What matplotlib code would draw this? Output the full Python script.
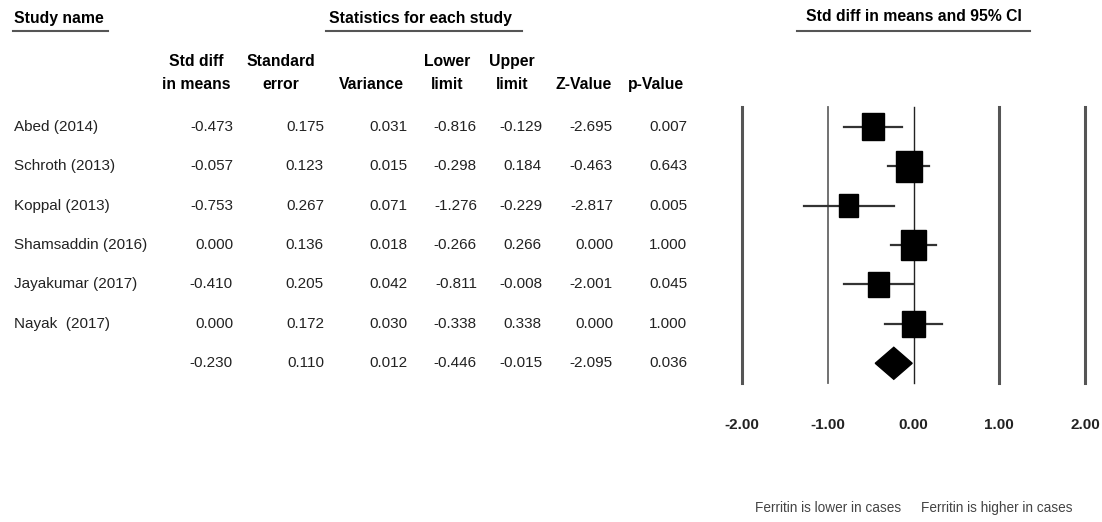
import numpy as np
import matplotlib
matplotlib.use("Agg")
import matplotlib.pyplot as plt
from matplotlib.patches import Rectangle, Polygon

plt.rcParams['font.family'] = ['Liberation Sans', 'DejaVu Sans']

# data
studies = ["Abed (2014)", "Schroth (2013)", "Koppal (2013)", "Shamsaddin (2016)",
           "Jayakumar (2017)", "Nayak  (2017)"]
smd = [-0.473, -0.057, -0.753, 0.000, -0.410, 0.000]
se = [0.175, 0.123, 0.267, 0.136, 0.205, 0.172]
var = [0.031, 0.015, 0.071, 0.018, 0.042, 0.030]
lower = [-0.816, -0.298, -1.276, -0.266, -0.811, -0.338]
upper = [-0.129, 0.184, -0.229, 0.266, -0.008, 0.338]
zval = [-2.695, -0.463, -2.817, 0.000, -2.001, 0.000]
pval = [0.007, 0.643, 0.005, 1.000, 0.045, 1.000]

pooled = [-0.230, 0.110, 0.012, -0.446, -0.015, -2.095, 0.036]

col_heads = [("Std diff", "in means"), ("Standard", "error"), ("", "Variance"),
             ("Lower", "limit"), ("Upper", "limit"), ("", "Z-Value"), ("", "p-Value")]
xticks = [-2.0, -1.0, 0.0, 1.0, 2.0]

W, H = 1102, 522
fig = plt.figure(figsize=(W / 100, H / 100), dpi=100)

# layout axes in pixel coordinates for the table part
lay = fig.add_axes([0, 0, 1, 1])
lay.set_xlim(0, W)
lay.set_ylim(H, 0)
lay.axis("off")

fs = 11
hfs = 11.3
row_y0, row_dy = 127, 39.33
col_right = [233, 324, 407, 477, 542, 613, 687]
col_center = [196, 281, 371, 447, 512, 584, 656]

# top headers
lay.text(14, 23, "Study name", fontsize=hfs, fontweight="bold", va="baseline", ha="left")
lay.plot([13, 108], [31, 31], color="#555555", lw=1.5)
lay.text(420, 23, "Statistics for each study", fontsize=hfs, fontweight="bold",
         va="baseline", ha="center")
lay.plot([326, 522], [31, 31], color="#555555", lw=1.5)
lay.text(914, 21, "Std diff in means and 95% CI", fontsize=hfs, fontweight="bold",
         va="baseline", ha="center")
lay.plot([797, 1030], [31, 31], color="#555555", lw=1.5)

for (h1, h2), cx in zip(col_heads, col_center):
    if h1:
        lay.text(cx, 66, h1, fontsize=hfs, fontweight="bold", ha="center", va="baseline")
    lay.text(cx, 89, h2, fontsize=hfs, fontweight="bold", ha="center", va="baseline")

cols = [smd, se, var, lower, upper, zval, pval]
for i, name in enumerate(studies):
    y = row_y0 + i * row_dy
    lay.text(14, y, name, fontsize=fs, ha="left", va="center", color="#222222")
    for c, xr in zip(cols, col_right):
        lay.text(xr, y, f"{c[i]:.3f}", fontsize=fs, ha="right", va="center", color="#222222")

y = row_y0 + len(studies) * row_dy
for v, xr in zip(pooled, col_right):
    lay.text(xr, y, f"{v:.3f}", fontsize=fs, ha="right", va="center", color="#222222")

# forest plot axes: x -2..2 -> px 742..1085, y rows -0.5..6.5 -> px 107..383
x0, x1 = 742, 1085
ytop, ybot = 107, 383
ax = fig.add_axes([x0 / W, 1 - ybot / H, (x1 - x0) / W, (ybot - ytop) / H])
ax.set_xlim(-2, 2)
ax.set_ylim(6.5, -0.5)
ax.axis("off")

px_x = (x1 - x0) / 4.0
px_y = (ybot - ytop) / 7.0

for xv in xticks:
    if xv == 0:
        ax.axvline(xv, color="#222222", lw=1.0, clip_on=False)
    elif xv == -1:
        ax.axvline(xv, color="#666666", lw=1.3, clip_on=False)
    else:
        ax.axvline(xv, color="#555555", lw=2.2, clip_on=False)

weights = 1.0 / np.array(var)
for i in range(len(studies)):
    ax.plot([lower[i], upper[i]], [i, i], color="#333333", lw=1.6)
    wpx = 13 + 1.6 * np.sqrt(weights[i])
    hpx = 1.2 * wpx
    w = wpx / px_x
    h = hpx / px_y
    ax.add_patch(Rectangle((smd[i] - w / 2, i - h / 2), w, h, color="black", zorder=3))

ys = len(studies)
dh = 16 / px_y
ax.add_patch(Polygon([(pooled[3], ys), (pooled[0], ys - dh), (pooled[4], ys), (pooled[0], ys + dh)],
                     closed=True, color="black", zorder=3))

for xv in xticks:
    lay.text(x0 + (xv + 2) * px_x, 425, f"{xv:.2f}", fontsize=11, fontweight="bold",
             ha="center", va="center", color="#222222")

lay.text(828, 508, "Ferritin is lower in cases", fontsize=9.8, ha="center", va="center", color="#444444")
lay.text(997, 508, "Ferritin is higher in cases", fontsize=9.8, ha="center", va="center", color="#444444")

fig.savefig("out.png", dpi=100)
